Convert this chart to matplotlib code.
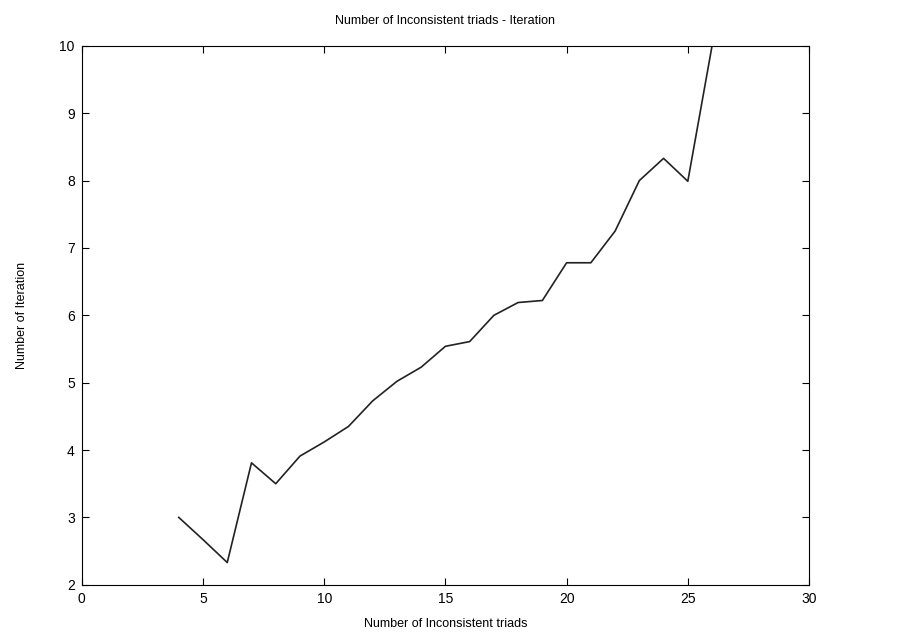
import matplotlib
matplotlib.use("Agg")
import matplotlib.pyplot as plt
import numpy as np

plt.rcParams['font.family'] = ['Liberation Sans', 'DejaVu Sans']

# data
triads = [4, 5, 6, 7, 8, 9, 10, 11, 12, 13, 14, 15, 16, 17, 18, 19, 20, 21, 22, 23, 24, 25, 26]
iterations = [3.0, 2.67, 2.33, 3.81, 3.5, 3.91, 4.12, 4.35, 4.73, 5.02, 5.23, 5.54, 5.61,
              6.0, 6.19, 6.22, 6.78, 6.78, 7.25, 8.0, 8.33, 7.99, 10.0]

xticks = [0, 5, 10, 15, 20, 25, 30]
yticks = [2, 3, 4, 5, 6, 7, 8, 9, 10]

fig = plt.figure(figsize=(9.09, 6.37), dpi=100)
ax = fig.add_axes([0.090, 0.082, 0.800, 0.846])

ax.plot(triads, iterations, color='#222222', linewidth=1.2)

ax.set_xlim(0, 30)
ax.set_ylim(2, 10)
ax.set_xticks(xticks)
ax.set_yticks(yticks)
ax.tick_params(direction='in', top=True, right=True, labelsize=10, length=5, pad=5)

ax.set_title('Number of Inconsistent triads - Iteration', fontsize=9, pad=16)
ax.set_xlabel('Number of Inconsistent triads', fontsize=9, labelpad=9)
ax.set_ylabel('Number of Iteration', fontsize=9, labelpad=23)

fig.savefig('out.png', dpi=100)
